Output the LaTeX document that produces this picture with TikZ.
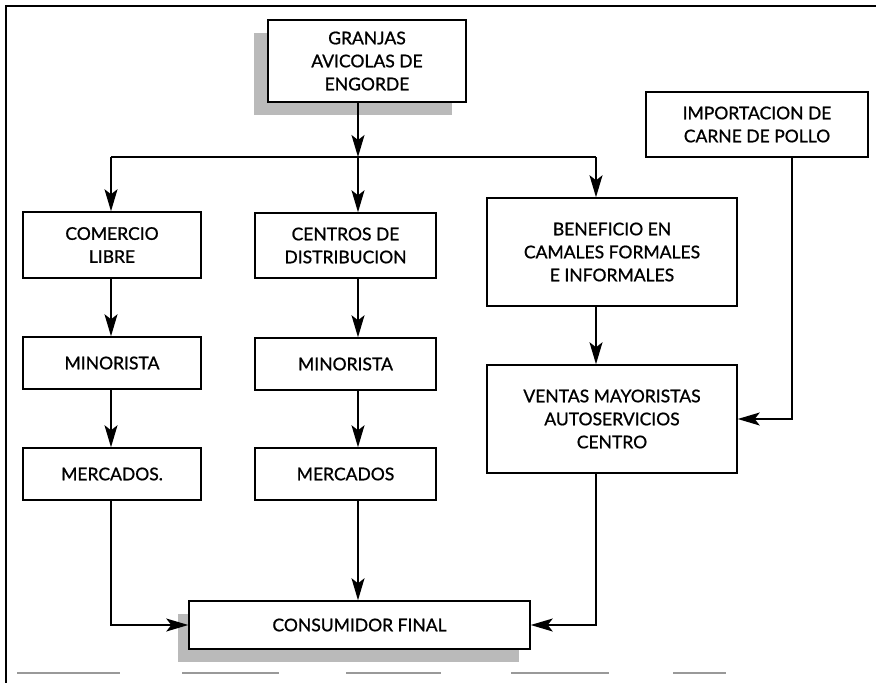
\documentclass[tikz,border=0pt]{standalone}
\usepackage{fontspec}
\setmainfont{Lato}
\newfontfamily\boxfont{Lato}[FakeBold=1.0]
\usetikzlibrary{arrows.meta,shadows}
\begin{document}
\begin{tikzpicture}[x=1pt,y=-1pt,
  box/.style={draw,line width=1.5pt,fill=white,inner sep=0pt,align=center,
    font=\boxfont\fontsize{17.5}{23}\selectfont},
  shade/.style={general shadow={shadow xshift=#1,shadow yshift=-13pt,fill=black!27}},
  arr/.style={line width=1.5pt,-{Stealth[length=22pt,width=13pt,inset=5pt]}},
  plain/.style={line width=1.5pt},
  rule/.style={line width=2pt,black!40}]
\useasboundingbox (0,0) rectangle (876,683);
% frame
\draw[line width=1.8pt] (6,683) -- (6,6) -- (876,6);
\foreach \a/\b in {17/120,182/279,346/441,511/609,673/726}
  \draw[rule] (\a,673) -- (\b,673);
% nodes
\node[box,shade=-14pt,minimum width=198pt,minimum height=82pt] (granjas) at (367,61) {GRANJAS\\AVICOLAS DE\\ENGORDE};
\node[box,minimum width=222pt,minimum height=65pt] (importacion) at (757,124.5) {IMPORTACION DE\\CARNE DE POLLO};
\node[box,minimum width=178pt,minimum height=66pt] (comercio) at (112,245) {COMERCIO\\LIBRE};
\node[box,minimum width=181pt,minimum height=65pt] (centros) at (345.5,245.5) {CENTROS DE\\DISTRIBUCION};
\node[box,minimum width=250pt,minimum height=108pt] (beneficio) at (612,252) {BENEFICIO EN\\CAMALES FORMALES\\E INFORMALES};
\node[box,minimum width=178pt,minimum height=52pt] (minL) at (112,363) {MINORISTA};
\node[box,minimum width=181pt,minimum height=52pt] (minC) at (345.5,364) {MINORISTA};
\node[box,minimum width=250pt,minimum height=108pt] (ventas) at (612,419) {VENTAS MAYORISTAS\\AUTOSERVICIOS\\CENTRO};
\node[box,minimum width=178pt,minimum height=52pt] (mercL) at (112,474) {MERCADOS.};
\node[box,minimum width=181pt,minimum height=52pt] (mercC) at (345.5,474) {MERCADOS};
\node[box,shade=-11pt,minimum width=341pt,minimum height=48pt] (consumidor) at (359.5,625) {CONSUMIDOR FINAL};
% junction coordinates
\coordinate (split) at (358,157);
\coordinate (lj) at (111,157);
\coordinate (rj) at (596,157);
\coordinate (imp) at (792,0);
% connectors
\draw[arr] (granjas.south -| split) -- (split);
\draw[plain] (lj) -- (rj);
\draw[arr] (lj) -- (comercio.north -| lj);
\draw[arr] (split) -- (centros.north -| split);
\draw[arr] (rj) -- (beneficio.north -| rj);
\draw[arr] (comercio.south -| lj) -- (minL.north -| lj);
\draw[arr] (minL.south -| lj) -- (mercL.north -| lj);
\draw[arr] (mercL.south -| lj) |- (consumidor.west);
\draw[arr] (centros.south -| split) -- (minC.north -| split);
\draw[arr] (minC.south -| split) -- (mercC.north -| split);
\draw[arr] (mercC.south -| split) -- (consumidor.north -| split);
\draw[arr] (beneficio.south -| rj) -- (ventas.north -| rj);
\draw[arr] (importacion.south -| imp) |- (ventas.east);
\draw[arr] (ventas.south -| rj) |- (consumidor.east);
\end{tikzpicture}
\end{document}
